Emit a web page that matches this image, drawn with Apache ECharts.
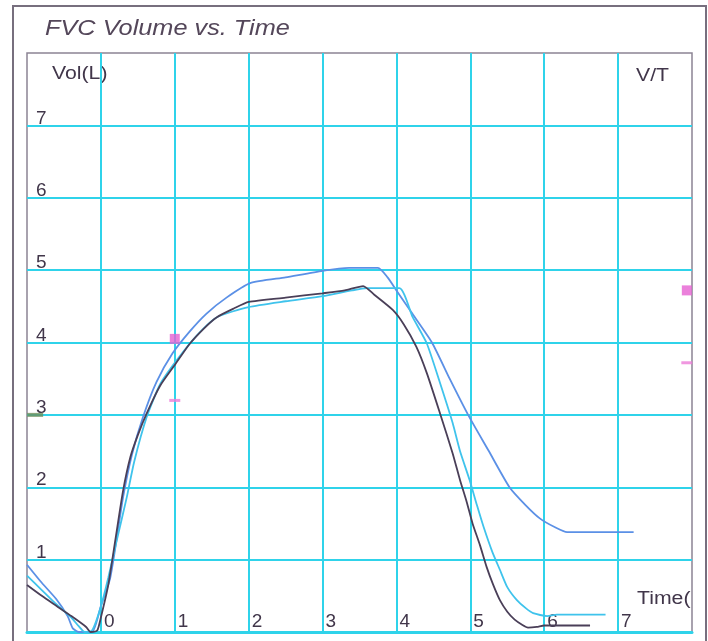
<!DOCTYPE html>
<html>
<head>
<meta charset="utf-8">
<title>FVC Volume vs. Time</title>
<script src="https://cdn.jsdelivr.net/npm/echarts@6/dist/echarts.min.js"></script>
<style>
  html, body { margin: 0; padding: 0; background: #ffffff; }
  #chart { width: 708px; height: 641px; }
</style>
</head>
<body>
<div id="chart"></div>
<script>
// time (s), volume (L)
var trialDark = [
  [-1.0, 0.65], [-0.8, 0.5], [-0.6, 0.36], [-0.4, 0.22], [-0.2, 0.07], [-0.14, 0.0],
  [-0.05, 0.02], [0.0, 0.2], [0.1, 0.65], [0.2, 1.3], [0.3, 1.95], [0.4, 2.42],
  [0.5, 2.72], [0.62, 3.02], [0.8, 3.4], [1.0, 3.69], [1.2, 3.98], [1.4, 4.2],
  [1.57, 4.35], [1.8, 4.47], [2.0, 4.56], [2.5, 4.62], [3.0, 4.68], [3.3, 4.72],
  [3.55, 4.78], [3.7, 4.66], [3.95, 4.45], [4.1, 4.25], [4.27, 3.94], [4.41, 3.58],
  [4.59, 3.02], [4.76, 2.47], [4.86, 2.1], [4.95, 1.8], [5.03, 1.5], [5.13, 1.2],
  [5.22, 0.9], [5.31, 0.65], [5.4, 0.44], [5.5, 0.28], [5.6, 0.17], [5.7, 0.1],
  [5.78, 0.06], [5.9, 0.07], [6.0, 0.09], [6.62, 0.09]
]
var trialCyan = [
  [-1.0, 0.78], [-0.8, 0.58], [-0.6, 0.38], [-0.4, 0.2], [-0.3, 0.08], [-0.22, 0.0],
  [-0.12, 0.02], [0.0, 0.35], [0.1, 0.75], [0.2, 1.2], [0.35, 1.86], [0.45, 2.35],
  [0.62, 2.97], [0.8, 3.42], [1.03, 3.76], [1.3, 4.1], [1.57, 4.35], [2.0, 4.49],
  [2.5, 4.57], [3.0, 4.64], [3.4, 4.72], [3.6, 4.75], [4.04, 4.75], [4.22, 4.35],
  [4.41, 3.99], [4.59, 3.44], [4.76, 2.89], [4.86, 2.5], [4.99, 2.1], [5.09, 1.75],
  [5.18, 1.45], [5.3, 1.1], [5.4, 0.86], [5.5, 0.62], [5.63, 0.44], [5.75, 0.33],
  [5.85, 0.26], [6.04, 0.22], [6.17, 0.24], [6.83, 0.24]
]
var trialBlue = [
  [-1.0, 0.93], [-0.8, 0.68], [-0.6, 0.45], [-0.45, 0.22], [-0.38, 0.05], [-0.3, 0.0],
  [-0.12, 0.0], [0.0, 0.36], [0.12, 0.72], [0.19, 1.13], [0.3, 1.86], [0.42, 2.45],
  [0.57, 2.97], [0.75, 3.45], [0.97, 3.85], [1.2, 4.15], [1.43, 4.4], [1.7, 4.62],
  [2.02, 4.82], [2.5, 4.9], [3.0, 4.99], [3.36, 5.03], [3.75, 5.03], [3.88, 4.9],
  [4.0, 4.72], [4.2, 4.42], [4.48, 4.0], [4.72, 3.5], [4.97, 3.0], [5.25, 2.5],
  [5.53, 2.0], [5.75, 1.75], [5.94, 1.57], [6.14, 1.45], [6.31, 1.38], [7.21, 1.38]
]

// small reference marks
var pinkSquares = [[1.0, 4.05], [7.93, 4.72]]
var pinkDashes = [[1.0, 3.2], [7.93, 3.72]]
var greenDash = [[-0.89, 3.0]]

var timeTicks = [0, 1, 2, 3, 4, 5, 6, 7]
var volTicks = [1, 2, 3, 4, 5, 6, 7]

var gridCyan = '#2fd3ea'
var frameGrey = '#8c8494'
var textColor = '#41364a'
var font = 'Liberation Sans, Arial, sans-serif'

// the scan is a bit stretched sideways, so texts get a small scaleX
function label(txt, x, y, size, italic, color, sx) {
  return {
    type: 'text',
    x: x,
    y: y,
    scaleX: sx,
    style: {
      text: txt,
      font: (italic ? 'italic ' : '') + size + 'px ' + font,
      fill: color,
      verticalAlign: 'middle'
    }
  }
}

var chart = echarts.init(document.getElementById('chart'))
chart.setOption({
  backgroundColor: '#ffffff',
  animation: false,
  grid: {
    left: 27,
    right: 16,
    top: 53,
    bottom: 9,
    show: true,
    borderColor: frameGrey,
    borderWidth: 1.5
  },
  xAxis: {
    type: 'value',
    min: -1,
    max: 8,
    interval: 1,
    axisLine: { show: true, lineStyle: { color: gridCyan, width: 3 } },
    axisTick: { show: false },
    splitLine: {
      show: true,
      showMinLine: false,
      showMaxLine: false,
      lineStyle: { color: gridCyan, width: 2 }
    },
    axisLabel: {
      inside: true,
      margin: 1,
      align: 'left',
      verticalAlign: 'bottom',
      padding: [0, 0, 0, 3],
      fontFamily: font,
      fontSize: 19,
      color: textColor,
      formatter: function (v) { return timeTicks.indexOf(v) >= 0 ? String(v) : '' }
    }
  },
  yAxis: {
    type: 'value',
    min: 0,
    max: 8,
    interval: 1,
    axisLine: { show: false },
    axisTick: { show: false },
    splitLine: {
      show: true,
      showMinLine: false,
      showMaxLine: false,
      lineStyle: { color: gridCyan, width: 2 }
    },
    axisLabel: {
      inside: true,
      margin: 9,
      align: 'left',
      verticalAlign: 'bottom',
      lineHeight: 14,
      fontFamily: font,
      fontSize: 19,
      color: textColor,
      formatter: function (v) { return volTicks.indexOf(v) >= 0 ? String(v) : '' }
    }
  },
  graphic: [
    {
      type: 'rect',
      z: -1,
      shape: { x: 13, y: 6, width: 693, height: 660 },
      style: { fill: 'none', stroke: '#776f7e', lineWidth: 2 }
    },
    label('FVC Volume vs. Time', 45, 29, 22, true, '#54475a', 1.15),
    label('Vol(L)', 52, 74, 18, false, textColor, 1.18),
    label('V/T', 636, 76, 18, false, textColor, 1.18),
    label('Time(', 637, 599, 18, false, textColor, 1.18)
  ],
  series: [
    {
      name: 'trial 3',
      type: 'line',
      data: trialBlue,
      showSymbol: false,
      smooth: 0.2,
      lineStyle: { color: '#5b90e6', width: 1.8 }
    },
    {
      name: 'trial 2',
      type: 'line',
      data: trialCyan,
      showSymbol: false,
      smooth: 0.2,
      lineStyle: { color: '#3fc3ec', width: 1.8 }
    },
    {
      name: 'trial 1',
      type: 'line',
      data: trialDark,
      showSymbol: false,
      smooth: 0.2,
      lineStyle: { color: '#4a3f58', width: 1.8 }
    },
    {
      type: 'scatter',
      data: pinkSquares,
      symbol: 'rect',
      symbolSize: [10, 10],
      itemStyle: { color: '#e660d2' },
      z: 5
    },
    {
      type: 'scatter',
      data: pinkDashes,
      symbol: 'rect',
      symbolSize: [11, 3],
      itemStyle: { color: '#ec7dd8' },
      z: 5
    },
    {
      type: 'scatter',
      data: greenDash,
      symbol: 'rect',
      symbolSize: [16, 4],
      itemStyle: { color: '#6d8f5a' },
      z: 5
    }
  ]
})
</script>
</body>
</html>
